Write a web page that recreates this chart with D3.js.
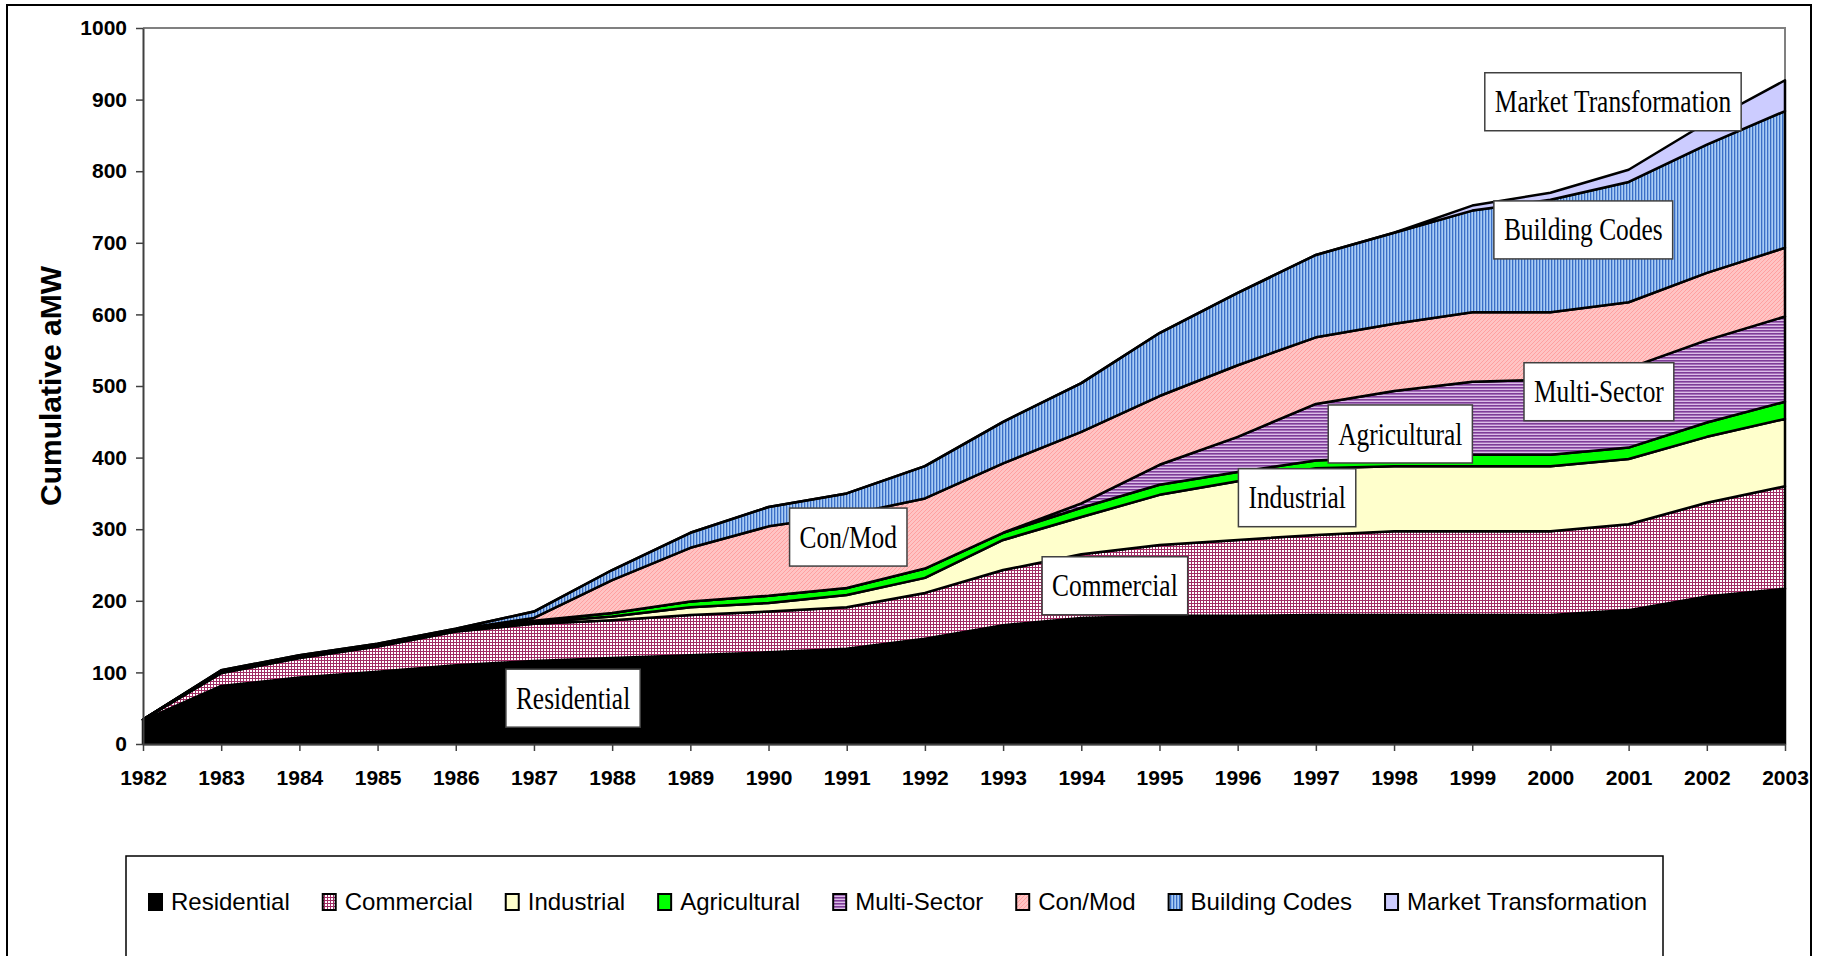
<!DOCTYPE html>
<html>
<head>
<meta charset="utf-8">
<script src="https://cdn.jsdelivr.net/npm/d3@7"></script>
<style>
  body { margin: 0; background: #fff; }
  svg { display: block; }
</style>
</head>
<body>
<svg id="chart" width="1823" height="956"></svg>
<script>
// data (aMW added per year, per program)
const years = d3.range(1982, 2004);
const residential  = [33, 81, 93, 101, 110, 116, 120, 124, 128, 133, 147, 166, 176, 179, 179, 180, 180, 180, 180, 187, 206, 217];
const commercial   = [1, 18, 27, 35, 47, 52, 53, 56, 57, 58, 64, 77, 89, 99, 106, 112, 117, 117, 117, 120, 131, 143];
const industrial   = [0, 2, 2, 2, 2, 2, 5, 11, 12, 17, 21, 42, 52, 70, 82, 93, 91, 91, 91, 91, 92, 94];
const agricultural = [0, 1, 1, 1, 1, 2, 5, 8, 10, 10, 13, 10, 13, 14, 13, 11, 13, 16, 16, 16, 20, 24];
const multiSector  = [0, 0, 0, 0, 0, 0, 0, 0, 0, 0, 0, 0, 6, 28, 49, 79, 92, 102, 105, 111, 115, 119];
const conMod       = [0, 0, 0, 0, 0, 4, 46, 75, 97, 102, 98, 97, 100, 96, 100, 93, 94, 97, 94, 92, 94, 96];
const buildingCodes= [0, 1, 1, 1, 1, 9, 14, 21, 27, 30, 45, 58, 68, 88, 101, 115, 127, 142, 157, 168, 179, 191];
const marketTrans  = [0, 0, 0, 0, 0, 0, 0, 0, 0, 0, 0, 0, 0, 0, 0, 0, 0, 7, 10, 17, 31, 43];

const seriesNames = ["Residential", "Commercial", "Industrial", "Agricultural", "Multi-Sector", "Con/Mod", "Building Codes", "Market Transformation"];
const seriesValues = [residential, commercial, industrial, agricultural, multiSector, conMod, buildingCodes, marketTrans];
const yTicks = d3.range(0, 1001, 100);

// text boxes placed on the chart (year, aMW of the box centre)
const labelNames = ["Residential", "Commercial", "Industrial", "Agricultural", "Multi-Sector", "Con/Mod", "Building Codes", "Market Transformation"];
const labelYears = [1987.5, 1994.43, 1996.76, 1998.08, 2000.62, 1991.02, 2000.42, 2000.8];
const labelVals  = [64, 221, 344, 433, 492, 289, 718, 897];

const plotL = 143, plotR = 1785, plotT = 28, plotB = 744;

const svg = d3.select("#chart");
const defs = svg.append("defs");

// fill patterns
var p = defs.append("pattern").attr("id", "pCom").attr("patternUnits", "userSpaceOnUse").attr("width", 3).attr("height", 3);
p.append("rect").attr("width", 3).attr("height", 3).attr("fill", "#ffffff");
p.append("rect").attr("width", 3).attr("height", 1).attr("fill", "#a02c64");
p.append("rect").attr("width", 1).attr("height", 3).attr("fill", "#a02c64");

p = defs.append("pattern").attr("id", "pMulti").attr("patternUnits", "userSpaceOnUse").attr("width", 4).attr("height", 3);
p.append("rect").attr("width", 4).attr("height", 3).attr("fill", "#dcbde8");
p.append("rect").attr("width", 4).attr("height", 1.6).attr("fill", "#7e3c98");

p = defs.append("pattern").attr("id", "pCon").attr("patternUnits", "userSpaceOnUse").attr("width", 4).attr("height", 4);
p.append("rect").attr("width", 4).attr("height", 4).attr("fill", "#ffc4c4");
p.append("path").attr("d", "M0,4 L4,0").attr("stroke", "#ffa0a0").attr("stroke-width", 1);

p = defs.append("pattern").attr("id", "pBC").attr("patternUnits", "userSpaceOnUse").attr("width", 3).attr("height", 4);
p.append("rect").attr("width", 3).attr("height", 4).attr("fill", "#a8ccf5");
p.append("rect").attr("width", 1.3).attr("height", 4).attr("fill", "#3a6ec6");

const fills = ["#000000", "url(#pCom)", "#ffffcc", "#00ff00", "url(#pMulti)", "url(#pCon)", "url(#pBC)", "#ccccff"];

// outer frame
svg.append("rect").attr("x", 7).attr("y", 5).attr("width", 1804).attr("height", 960)
  .attr("fill", "none").attr("stroke", "#000").attr("stroke-width", 2);

const x = d3.scaleLinear().domain([1982, 2003]).range([plotL, plotR]);
const y = d3.scaleLinear().domain([0, 1000]).range([plotB, plotT]);

// plot border (top + right)
svg.append("path")
  .attr("d", "M" + plotL + "," + plotT + "H" + plotR + "V" + plotB)
  .attr("fill", "none").attr("stroke", "#808080").attr("stroke-width", 2);

const table = years.map(function (yr, i) {
  var row = { year: yr };
  seriesNames.forEach(function (n, k) { row[n] = seriesValues[k][i]; });
  return row;
});
const stacked = d3.stack().keys(seriesNames)(table);

const area = d3.area()
  .x(function (d) { return x(d.data.year); })
  .y0(function (d) { return y(d[0]); })
  .y1(function (d) { return y(d[1]); });

svg.append("g").selectAll("path")
  .data(stacked).enter()
  .append("path")
  .attr("d", area)
  .attr("fill", function (d, i) { return fills[i]; })
  .attr("stroke", "#000")
  .attr("stroke-width", 2.5)
  .attr("stroke-linejoin", "round");

// axes
const yAxis = svg.append("g")
  .attr("transform", "translate(" + plotL + ",0)")
  .call(d3.axisLeft(y).tickValues(yTicks).tickFormat(d3.format("d")).tickSize(7).tickSizeOuter(0).tickPadding(9));
const xAxis = svg.append("g")
  .attr("transform", "translate(0," + plotB + ")")
  .call(d3.axisBottom(x).tickValues(years).tickFormat(d3.format("d")).tickSize(7).tickSizeOuter(0).tickPadding(19));

[yAxis, xAxis].forEach(function (a) {
  a.select(".domain").attr("stroke", "#404040").attr("stroke-width", 2);
  a.selectAll(".tick line").attr("stroke", "#404040").attr("stroke-width", 1.5);
  a.selectAll("text")
    .attr("fill", "#000")
    .style("font-family", "'Liberation Sans', Arial, sans-serif")
    .style("font-weight", "bold")
    .style("font-size", "21px");
});

svg.append("text")
  .attr("transform", "translate(50," + ((plotT + plotB) / 2) + ") rotate(-90)")
  .attr("text-anchor", "middle")
  .attr("dy", "0.35em")
  .style("font-family", "'Liberation Sans', Arial, sans-serif")
  .style("font-weight", "bold")
  .style("font-size", "30px")
  .text("Cumulative aMW");

// text boxes on the chart
const lab = svg.append("g");
labelNames.forEach(function (name, i) {
  var cx = x(labelYears[i]), cy = y(labelVals[i]);
  var g = lab.append("g");
  var r = g.append("rect");
  var t = g.append("text")
    .attr("text-anchor", "middle")
    .attr("dy", "0.34em")
    .attr("transform", "translate(" + cx + "," + cy + ") scale(0.82,1)")
    .style("font-family", "'Liberation Serif', 'Times New Roman', serif")
    .style("font-size", "31px")
    .text(name);
  var w = t.node().getComputedTextLength() * 0.82 + 20;
  r.attr("x", cx - w / 2).attr("y", cy - 29).attr("width", w).attr("height", 58)
    .attr("fill", "#fff").attr("stroke", "#404040").attr("stroke-width", 1.5);
});

// legend
svg.append("rect").attr("x", 126).attr("y", 856).attr("width", 1537).attr("height", 120)
  .attr("fill", "#fff").attr("stroke", "#000").attr("stroke-width", 1.5);

var lx = 149;
const legend = svg.append("g");
seriesNames.forEach(function (name, i) {
  legend.append("rect")
    .attr("x", lx).attr("y", 894).attr("width", 13).attr("height", 16)
    .attr("fill", fills[i]).attr("stroke", "#000").attr("stroke-width", 2);
  var t = legend.append("text")
    .attr("x", lx + 22).attr("y", 902).attr("dy", "0.35em")
    .style("font-family", "'Liberation Sans', Arial, sans-serif")
    .style("font-size", "24px")
    .text(name);
  lx += 22 + t.node().getComputedTextLength() + 33;
});
</script>
</body>
</html>
